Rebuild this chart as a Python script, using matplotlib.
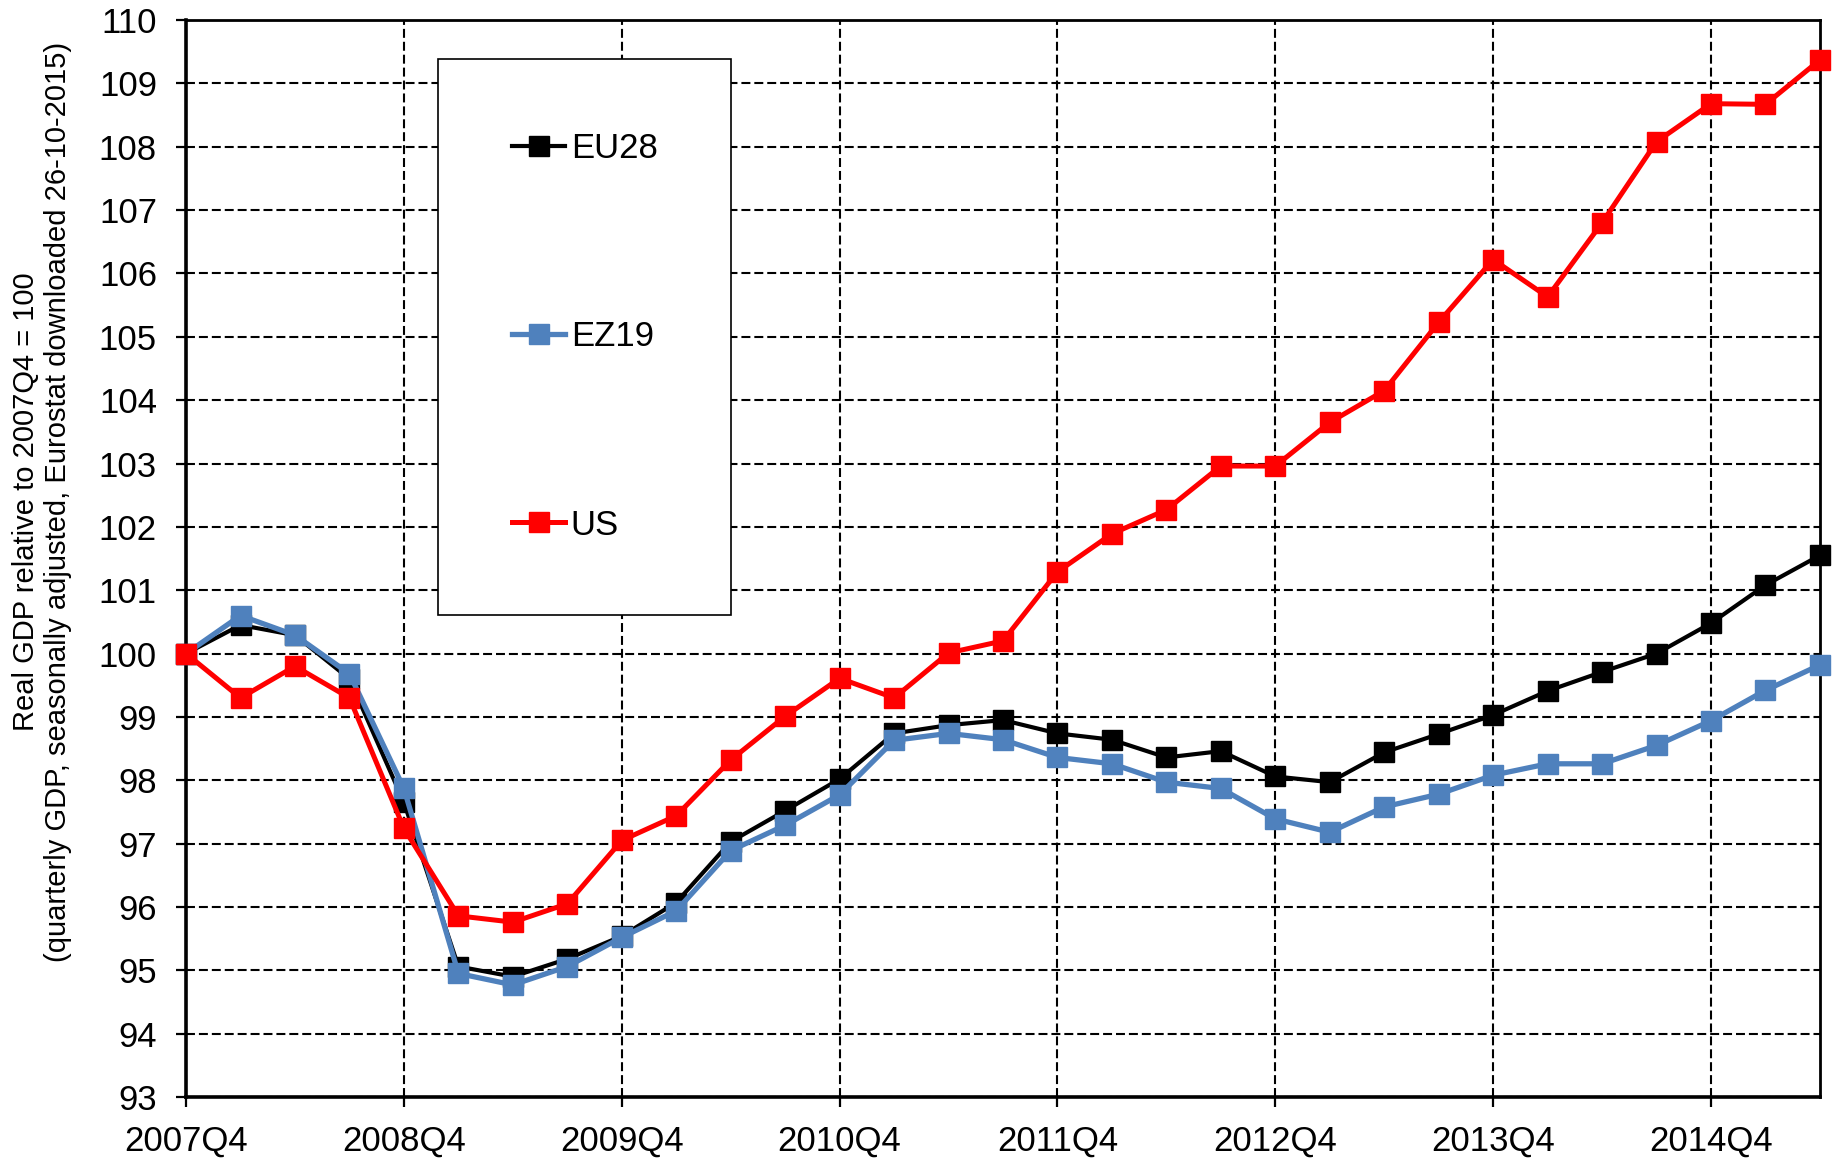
import numpy as np
import matplotlib
matplotlib.use("Agg")
import matplotlib.pyplot as plt

plt.rcParams['font.family'] = ['Liberation Sans', 'DejaVu Sans']

# quarters from 2007Q4 to 2015Q3
quarters = np.arange(31)
tick_labels = ["2007Q4", "2008Q4", "2009Q4", "2010Q4",
               "2011Q4", "2012Q4", "2013Q4", "2014Q4"]

eu28 = [100.0, 100.45, 100.29, 99.6, 97.65, 95.06, 94.9, 95.18, 95.54, 96.07,
        97.03, 97.52, 98.02, 98.74, 98.87, 98.95, 98.74, 98.64, 98.36, 98.46,
        98.06, 97.97, 98.44, 98.73, 99.03, 99.41, 99.71, 100.0, 100.48, 101.08,
        101.55]
ez19 = [100.0, 100.6, 100.29, 99.68, 97.87, 94.95, 94.77, 95.06, 95.52, 95.94,
        96.89, 97.29, 97.77, 98.63, 98.74, 98.64, 98.36, 98.26, 97.97, 97.87,
        97.39, 97.18, 97.58, 97.78, 98.08, 98.26, 98.26, 98.55, 98.94, 99.42,
        99.82]
us = [100.0, 99.3, 99.8, 99.3, 97.24, 95.86, 95.76, 96.05, 97.05, 97.44,
      98.32, 99.01, 99.61, 99.3, 100.01, 100.2, 101.29, 101.89, 102.27, 102.96,
      102.96, 103.65, 104.15, 105.23, 106.22, 105.63, 106.8, 108.08, 108.68,
      108.67, 109.37]

fig = plt.figure(figsize=(18.37, 11.6), dpi=100)
ax = fig.add_axes([0.1013, 0.0543, 0.8894, 0.9284])

series = [("EU28", eu28, "black", 3.0),
          ("EZ19", ez19, "#4F81BD", 3.8),
          ("US", us, "#FF0000", 3.6)]
for name, vals, col, w in series:
    ax.plot(quarters, vals, color=col, lw=w, marker="s", markersize=14.5,
            mec=col, mfc=col, label=name, clip_on=False, zorder=3)

ax.set_xlim(0, 30)
ax.set_ylim(93, 110)
ax.set_xticks(np.arange(0, 29, 4))
ax.set_xticklabels(tick_labels)
ax.set_yticks(np.arange(93, 111, 1))

ax.grid(True, color="black", lw=1.5, ls=(0, (4.3, 1.9)), zorder=1)
ax.set_axisbelow(True)

ax.tick_params(axis="both", direction="out", length=7, width=1.6,
               labelsize=25, colors="black")
ax.tick_params(axis="x", pad=13)
ax.tick_params(axis="y", pad=14)

for side in ["left", "bottom"]:
    ax.spines[side].set_linewidth(2.6)
for side in ["top", "right"]:
    ax.spines[side].set_linewidth(2.0)

ax.set_ylabel("Real GDP relative to 2007Q4 = 100\n"
              "(quarterly GDP, seasonally adjusted, Eurostat downloaded 26-10-2015)",
              fontsize=21, va="center", ha="center", linespacing=1.15)
ax.yaxis.set_label_coords(-0.0881, 0.553)

leg = ax.legend(loc="upper left", bbox_to_anchor=(0.1542, 0.9643), borderaxespad=0,
                fontsize=25, frameon=True, fancybox=False, framealpha=1,
                edgecolor="black", handlelength=1.55, handletextpad=0.15,
                labelspacing=4.47, borderpad=2.12)
leg.get_frame().set_linewidth(1.2)

fig.savefig("out.png", dpi=100)
